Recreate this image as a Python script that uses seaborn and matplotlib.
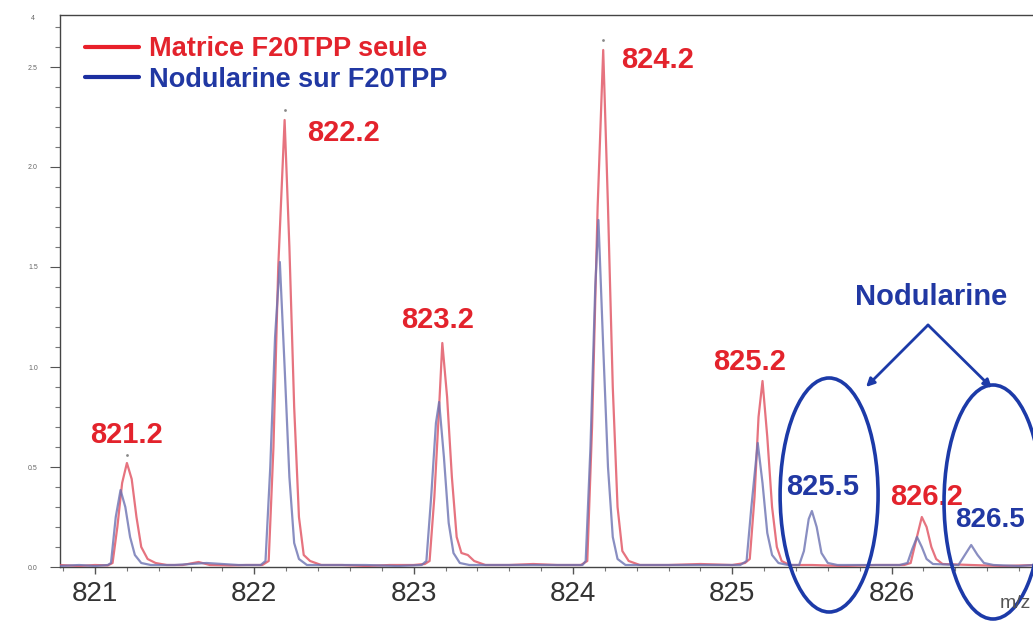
import numpy as np
import pandas as pd
import matplotlib
matplotlib.use("Agg")
import matplotlib.pyplot as plt
from matplotlib.patches import Ellipse
from matplotlib.lines import Line2D
from matplotlib.ticker import MultipleLocator
import seaborn as sns

# DATA
red_mz = [820.78, 820.90, 821.00, 821.08,
          821.11, 821.14, 821.17, 821.20, 821.23, 821.26, 821.29, 821.33, 821.38, 821.45,
          821.55, 821.65, 821.72, 821.85, 821.95, 822.05,
          822.09, 822.12, 822.15, 822.19, 822.22, 822.25, 822.28, 822.31, 822.35, 822.42,
          822.55, 822.70, 822.85, 823.00, 823.07,
          823.10, 823.13, 823.16, 823.18, 823.21, 823.24, 823.27, 823.30, 823.34, 823.38, 823.45,
          823.60, 823.75, 823.90, 824.05,
          824.09, 824.12, 824.155, 824.19, 824.22, 824.25, 824.28, 824.31, 824.35, 824.42,
          824.60, 824.80, 825.00, 825.08,
          825.11, 825.14, 825.165, 825.19, 825.22, 825.25, 825.28, 825.31, 825.36,
          825.50, 825.70, 825.90, 826.08,
          826.12, 826.15, 826.19, 826.22, 826.25, 826.28, 826.32,
          826.50, 826.70, 826.90]
red_int = [0.010, 0.005, 0.010, 0.008,
           0.020, 0.200, 0.420, 0.520, 0.440, 0.250, 0.100, 0.040, 0.020, 0.010,
           0.010, 0.025, 0.010, 0.008, 0.010, 0.010,
           0.030, 0.600, 1.500, 2.235, 1.600, 0.800, 0.250, 0.060, 0.030, 0.010,
           0.010, 0.005, 0.010, 0.010, 0.015,
           0.030, 0.350, 0.800, 1.120, 0.850, 0.450, 0.150, 0.070, 0.060, 0.030, 0.010,
           0.010, 0.015, 0.010, 0.010,
           0.030, 0.700, 1.800, 2.585, 1.800, 0.900, 0.300, 0.080, 0.030, 0.010,
           0.010, 0.015, 0.010, 0.020,
           0.040, 0.350, 0.750, 0.930, 0.650, 0.300, 0.100, 0.030, 0.010,
           0.010, 0.005, 0.010, 0.010,
           0.020, 0.120, 0.250, 0.200, 0.100, 0.040, 0.015,
           0.010, 0.005, 0.010]

blue_mz = [820.78, 820.90, 821.00, 821.08,
           821.10, 821.13, 821.16, 821.19, 821.22, 821.25, 821.29, 821.35,
           821.50, 821.70, 821.90, 822.04,
           822.07, 822.10, 822.13, 822.16, 822.19, 822.22, 822.25, 822.28, 822.33,
           822.50, 822.70, 822.90, 823.05,
           823.08, 823.11, 823.14, 823.16, 823.19, 823.22, 823.25, 823.29, 823.35,
           823.60, 823.80, 824.00, 824.06,
           824.08, 824.11, 824.14, 824.16, 824.19, 824.22, 824.25, 824.28, 824.33,
           824.60, 824.85, 825.05,
           825.09, 825.12, 825.16, 825.19, 825.22, 825.25, 825.29, 825.35,
           825.42, 825.45, 825.48, 825.50, 825.53, 825.56, 825.60, 825.66,
           825.85, 826.05,
           826.10, 826.13, 826.16, 826.19, 826.22, 826.26,
           826.42, 826.46, 826.50, 826.54, 826.58, 826.64,
           826.80, 826.90]
blue_int = [0.005, 0.010, 0.005, 0.010,
            0.020, 0.250, 0.385, 0.300, 0.150, 0.060, 0.020, 0.010,
            0.010, 0.020, 0.010, 0.010,
            0.030, 0.500, 1.150, 1.525, 1.000, 0.450, 0.120, 0.040, 0.010,
            0.010, 0.010, 0.005, 0.010,
            0.030, 0.350, 0.720, 0.825, 0.550, 0.220, 0.070, 0.020, 0.010,
            0.010, 0.010, 0.010, 0.010,
            0.030, 0.600, 1.400, 1.735, 1.100, 0.500, 0.150, 0.040, 0.010,
            0.010, 0.010, 0.010,
            0.030, 0.300, 0.620, 0.420, 0.170, 0.060, 0.020, 0.010,
            0.010, 0.080, 0.240, 0.280, 0.200, 0.070, 0.020, 0.010,
            0.010, 0.010,
            0.020, 0.090, 0.150, 0.100, 0.040, 0.015,
            0.010, 0.060, 0.110, 0.060, 0.020, 0.010,
            0.005, 0.010]

# small peak markers above red apexes
dot_mz = [821.20, 822.19, 824.19]
dot_int = [0.56, 2.285, 2.635]

# peak labels
red_labels = ["821.2", "822.2", "823.2", "824.2", "825.2", "826.2"]
red_lab_x = [821.20, 822.56, 823.15, 824.53, 825.11, 826.22]
red_lab_y = [0.66, 2.17, 1.235, 2.535, 1.025, 0.35]
blue_labels = ["825.5", "826.5"]
blue_lab_x = [825.57, 826.40]
blue_lab_y = [0.40, 0.235]

series_names = ["Matrice F20TPP seule", "Nodularine sur F20TPP"]

RED_TXT = "#e3232c"
BLUE_TXT = "#2138a3"

df = pd.concat([
    pd.DataFrame({"mz": red_mz, "intensity": red_int, "serie": series_names[0]}),
    pd.DataFrame({"mz": blue_mz, "intensity": blue_int, "serie": series_names[1]}),
])

# STYLING
sns.set_style("ticks")
plt.rcParams["font.family"] = ["Liberation Sans", "DejaVu Sans"]

fig = plt.figure(figsize=(10.33, 6.23), dpi=100)
ax = fig.add_axes([60 / 1033, 1 - 567 / 623, 1 - 60 / 1033, (567 - 15) / 623])

sns.lineplot(data=df, x="mz", y="intensity", hue="serie", sort=False,
             palette={series_names[0]: "#e0505f", series_names[1]: "#6c72b2"},
             linewidth=1.6, alpha=0.8, legend=False, ax=ax, zorder=3)
sns.scatterplot(x=dot_mz, y=dot_int, color="#888888", s=4, linewidth=0, ax=ax, zorder=3)

ax.set_xlim(820.78, 826.888)
ax.set_ylim(0, 2.76)
ax.set_xlabel("")
ax.set_ylabel("")

ax.xaxis.set_major_locator(MultipleLocator(1))
ax.xaxis.set_minor_locator(MultipleLocator(0.2))
ax.yaxis.set_major_locator(MultipleLocator(0.5))
ax.yaxis.set_minor_locator(MultipleLocator(0.1))
ax.yaxis.set_major_formatter(matplotlib.ticker.FormatStrFormatter("%.1f"))
ax.tick_params(axis="x", which="major", length=5, width=1, color="#555555",
               labelsize=20, labelcolor="#333333", pad=5)
ax.tick_params(axis="x", which="minor", length=3, width=0.8, color="#777777")
ax.tick_params(axis="y", which="major", length=7, width=0.8, color="#555555",
               labelsize=5, labelcolor="#666666", pad=9)
ax.tick_params(axis="y", which="minor", length=3.5, width=0.8, color="#777777")

ax.spines["right"].set_visible(False)
for s in ["left", "top", "bottom"]:
    ax.spines[s].set_color("#444444")
    ax.spines[s].set_linewidth(1.0)

# peak labels
for t, x, y in zip(red_labels, red_lab_x, red_lab_y):
    ax.text(x, y, t, color=RED_TXT, fontsize=21, fontweight="bold",
            ha="center", va="center", zorder=4)
for t, x, y, ha in zip(blue_labels, blue_lab_x, blue_lab_y, ["center", "left"]):
    ax.text(x, y, t, color=BLUE_TXT, fontsize=21 if ha == "center" else 20,
            fontweight="bold", ha=ha, va="center", zorder=4, clip_on=False)

# circled nodularine peaks
for cx, cy in [(825.608, 0.36), (826.637, 0.325)]:
    ax.add_patch(Ellipse((cx, cy), 0.615, 1.17, fill=False, edgecolor="#1c3aa8",
                         linewidth=2.6, clip_on=False, zorder=5))

ax.text(826.248, 1.35, "Nodularine", color=BLUE_TXT, fontsize=21,
        fontweight="bold", ha="center", va="center")
for tx, ty in [(825.84, 0.90), (826.63, 0.895)]:
    ax.annotate("", xy=(tx, ty), xytext=(826.229, 1.21),
                arrowprops=dict(arrowstyle="-|>", color="#1c3aa8", lw=2,
                                mutation_scale=12, shrinkA=0, shrinkB=0))

# legend
handles = [Line2D([], [], color="#e8202a", lw=3), Line2D([], [], color="#1c2fa0", lw=3)]
leg = ax.legend(handles, series_names, loc="upper left",
                bbox_to_anchor=(85 / 1033, 1 - 36 / 623), bbox_transform=fig.transFigure,
                frameon=False, borderpad=0, borderaxespad=0, handlelength=2.0,
                handletextpad=0.35, labelspacing=0.18,
                prop={"size": 19.5, "weight": "bold"})
for txt, c in zip(leg.get_texts(), [RED_TXT, BLUE_TXT]):
    txt.set_color(c)

fig.text(33 / 1033, 1 - 18 / 623, "4", fontsize=5, color="#666666", ha="center", va="center")
fig.text(1000 / 1033, 1 - 603 / 623, "m/z", fontsize=14, color="#555555",
         ha="left", va="center")

fig.savefig("out.png", dpi=100)
